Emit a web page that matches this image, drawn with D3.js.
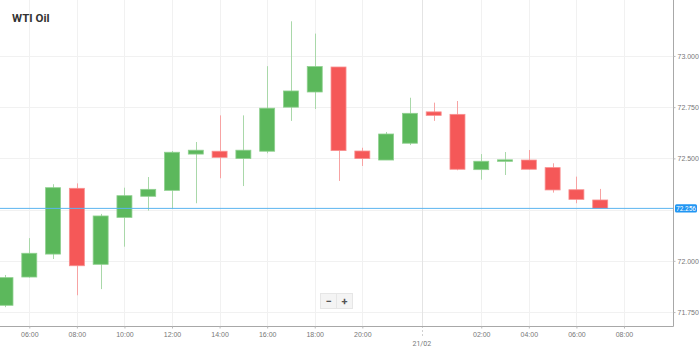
<!DOCTYPE html>
<html><head><meta charset="utf-8">
<script src="https://cdn.jsdelivr.net/npm/d3@7"></script>
<style>html,body{margin:0;padding:0;background:#fff;overflow:hidden}svg{display:block;font-family:Roboto,"Noto Sans",sans-serif}</style>
</head><body><div id="chart"></div>
<script>
const title = "WTI Oil";
const slots = ["05:00","06:00","07:00","08:00","09:00","10:00","11:00","12:00","13:00","14:00","15:00","16:00","17:00","18:00","19:00","20:00","21:00","22:00",
               "00:00","01:00","02:00","03:00","04:00","05:00","06:00","07:00","08:00"];
const opens  = [71.783,71.921,72.033,72.354,71.983,72.212,72.315,72.344,72.521,72.535,72.499,72.535,72.750,72.824,72.946,72.536,72.492,72.574,72.727,72.715,72.445,72.491,72.492,72.455,72.347,72.297];
const highs  = [71.931,72.111,72.374,72.378,72.229,72.357,72.409,72.536,72.580,72.710,72.710,72.950,73.169,73.109,72.946,72.552,72.629,72.796,72.772,72.780,72.521,72.531,72.541,72.476,72.411,72.351];
const lows   = [71.774,71.918,72.009,71.832,71.862,72.069,72.245,72.253,72.281,72.403,72.365,72.525,72.683,72.741,72.390,72.463,72.492,72.565,72.683,72.442,72.396,72.419,72.446,72.333,72.281,72.256];
const closes = [71.918,72.037,72.357,71.976,72.219,72.318,72.349,72.530,72.540,72.505,72.540,72.745,72.829,72.948,72.538,72.499,72.619,72.720,72.710,72.447,72.486,72.493,72.447,72.346,72.300,72.256];
const xTickLabels = ["06:00","08:00","10:00","12:00","14:00","16:00","18:00","20:00","02:00","04:00","06:00","08:00"];
const yTicks = [71.75,72.0,72.25,72.5,72.75,73.0];
const dateLabel = "21/02";
const lastPrice = 72.256;

const W = 699, H = 351;
const plot = {left:0, top:0, right:673, bottom:326};
const svg = d3.select("#chart").append("svg").attr("width",W).attr("height",H);

const x = d3.scaleLinear().domain([-0.231, 28.06]).range([plot.left, plot.right]);
const y = d3.scaleLinear().domain([71.682, 73.273]).range([plot.bottom, plot.top]);
const step = x(1) - x(0);
const bw = step * 0.63;

const tickIdx = [];
let from = 0;
xTickLabels.forEach(l => { const i = slots.indexOf(l, from); tickIdx.push(i); from = i + 1; });
const dayBreak = slots.findIndex((s,i) => i>0 && s < slots[i-1]) - 0.5;

svg.append("defs").append("clipPath").attr("id","clip").append("rect")
  .attr("x",plot.left).attr("y",plot.top).attr("width",plot.right-plot.left).attr("height",plot.bottom-plot.top);

const grid = svg.append("g");
grid.selectAll("line.h").data(yTicks).join("line")
  .attr("x1",plot.left).attr("x2",plot.right).attr("y1",d=>Math.round(y(d))+0.5).attr("y2",d=>Math.round(y(d))+0.5)
  .attr("stroke","#f1f1f1").attr("stroke-width",1);
grid.selectAll("line.v").data(tickIdx).join("line")
  .attr("y1",plot.top).attr("y2",plot.bottom).attr("x1",d=>Math.round(x(d))+0.5).attr("x2",d=>Math.round(x(d))+0.5)
  .attr("stroke","#f1f1f1").attr("stroke-width",1);
grid.append("line").attr("x1",Math.round(x(dayBreak))+0.5).attr("x2",Math.round(x(dayBreak))+0.5)
  .attr("y1",plot.top).attr("y2",plot.bottom).attr("stroke","#e4e4e4");
grid.append("line").attr("x1",Math.round(x(dayBreak))+0.5).attr("x2",Math.round(x(dayBreak))+0.5)
  .attr("y1",plot.bottom).attr("y2",plot.bottom+10).attr("stroke","#d0d0d0").attr("stroke-dasharray","2,2");

const data = opens.map((o,i)=>({i, o, h:highs[i], l:lows[i], c:closes[i]}));
const cg = svg.append("g").attr("clip-path","url(#clip)");
const up = "#5cb85c", dn = "#f55858";
cg.selectAll("line.wick").data(data).join("line")
  .attr("x1",d=>Math.round(x(d.i))+0.5).attr("x2",d=>Math.round(x(d.i))+0.5)
  .attr("y1",d=>y(d.h)).attr("y2",d=>y(d.l))
  .attr("stroke",d=>d.c>=d.o?"#a9d8a9":"#f7a3a3").attr("stroke-width",1);
cg.selectAll("rect.body").data(data).join("rect")
  .attr("x",d=>x(d.i)-bw/2).attr("width",bw)
  .attr("y",d=>y(Math.max(d.o,d.c)))
  .attr("height",d=>Math.max(1.5, Math.abs(y(d.o)-y(d.c))))
  .attr("fill",d=>d.c>=d.o?up:dn)
  .attr("stroke",d=>d.c>=d.o?"#8fd08f":"#f89090").attr("stroke-width",0.8);

svg.append("line").attr("x1",plot.left).attr("x2",plot.right)
  .attr("y1",y(lastPrice)).attr("y2",y(lastPrice)).attr("stroke","#5ab4f0").attr("stroke-width",1);

svg.append("line").attr("x1",plot.right+0.5).attr("x2",plot.right+0.5).attr("y1",plot.top).attr("y2",plot.bottom+0.5).attr("stroke","#a8a8a8");
svg.append("line").attr("x1",plot.left).attr("x2",plot.right+0.5).attr("y1",plot.bottom+0.5).attr("y2",plot.bottom+0.5).attr("stroke","#a8a8a8");

// y labels hidden where they collide with the last-price badge
const yLabelTicks = yTicks.filter(v => Math.abs(y(v) - y(lastPrice)) > 8);
const yAxis = d3.axisRight(y).tickValues(yLabelTicks).tickSize(2).tickPadding(2).tickFormat(d3.format(".3f"));
const ya = svg.append("g").attr("transform",`translate(${plot.right+0.5},0)`).call(yAxis);
ya.select(".domain").remove();
ya.selectAll("line").attr("stroke","#bbb");
ya.selectAll("text").attr("fill","#777").attr("font-size","7px");

const xAxis = d3.axisBottom(x).tickValues(tickIdx).tickSize(2).tickPadding(4).tickFormat((d,k)=>xTickLabels[k]);
const xa = svg.append("g").attr("transform",`translate(0,${plot.bottom+0.5})`).call(xAxis);
xa.select(".domain").remove();
xa.selectAll("line").attr("stroke","#bbb");
xa.selectAll("text").attr("fill","#777").attr("font-size","7px");

svg.append("text").attr("x",x(dayBreak)).attr("y",346).attr("text-anchor","middle")
  .attr("fill","#777").attr("font-size","7px").text(dateLabel);

const ly = y(lastPrice);
svg.append("rect").attr("x",plot.right+2).attr("y",ly-4.2).attr("width",22).attr("height",8.4).attr("rx",1.5).attr("fill","#2196f3");
svg.append("text").attr("x",plot.right+13).attr("y",ly+2.3).attr("text-anchor","middle").attr("fill","#fff").attr("font-size","6.5px").text(lastPrice.toFixed(3));

svg.append("text").attr("x",12).attr("y",22).attr("font-size","11.5px").attr("font-weight","bold").attr("fill","#333").text(title);

const zb = svg.append("g");
zb.append("rect").attr("x",320.5).attr("y",293.5).attr("width",32).attr("height",15).attr("fill","#f4f4f4").attr("stroke","#e6e6e6");
zb.append("line").attr("x1",336.5).attr("x2",336.5).attr("y1",294).attr("y2",308).attr("stroke","#e6e6e6");
zb.append("text").attr("x",328.5).attr("y",304.5).attr("text-anchor","middle").attr("font-size","11px").attr("font-weight","bold").attr("fill","#555").text("−");
zb.append("text").attr("x",344.5).attr("y",304.5).attr("text-anchor","middle").attr("font-size","11px").attr("font-weight","bold").attr("fill","#555").text("+");
</script></body></html>
